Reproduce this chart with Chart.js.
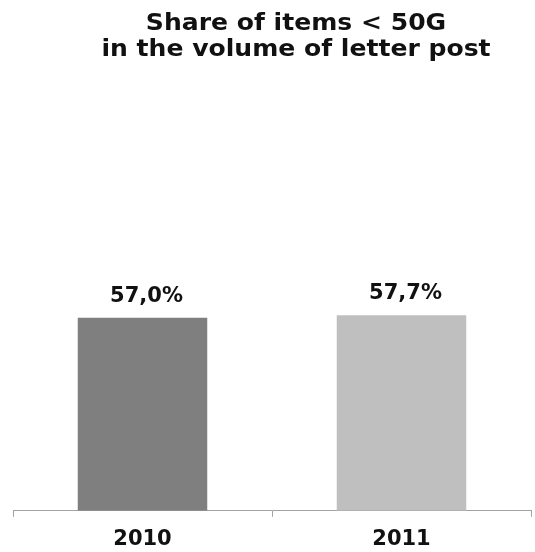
<!DOCTYPE html>
<html>
<head>
<meta charset="utf-8">
<script src="https://cdn.jsdelivr.net/npm/chart.js@4"></script>
<style>
    html, body { margin: 0; padding: 0; background: #ffffff; }
    #wrap { width: 535px; height: 552px; }
</style>
</head>
<body>
<div id="wrap"><canvas id="shareChart" width="535" height="552"></canvas></div>
<script>
const years = ['2010', '2011'];
const shares = [57.0, 57.7];
const barColors = ['#7f7f7f', '#bfbfbf'];
const titleLines = ['Share of items < 50G', 'in the volume of letter post'];

const FONT = '"DejaVu Sans", Verdana, sans-serif';

// Title drawn by hand so it can sit a little right of the plot centre,
// with a slight horizontal stretch for a wider face
const titlePlugin = {
    id: 'titleLines',
    afterDraw(chart) {
        const ctx = chart.ctx;
        ctx.save();
        ctx.translate(296, 0);
        ctx.scale(1.09, 1);
        ctx.font = 'bold 23px ' + FONT;
        ctx.fillStyle = '#111111';
        ctx.textAlign = 'center';
        ctx.textBaseline = 'alphabetic';
        titleLines.forEach((line, i) => {
            ctx.fillText(line, 0, 30 + i * 26);
        });
        ctx.restore();
    }
};

// Value labels above each bar, written with a decimal comma
const valueLabels = {
    id: 'valueLabels',
    afterDatasetsDraw(chart) {
        const ctx = chart.ctx;
        const meta = chart.getDatasetMeta(0);
        ctx.save();
        ctx.font = 'bold 21px ' + FONT;
        ctx.fillStyle = '#111111';
        ctx.textAlign = 'center';
        ctx.textBaseline = 'alphabetic';
        meta.data.forEach((bar, i) => {
            const text = shares[i].toFixed(1).replace('.', ',') + '%';
            ctx.fillText(text, bar.x + 4, bar.y - 16);
        });
        ctx.restore();
    }
};

new Chart(document.getElementById('shareChart'), {
    type: 'bar',
    data: {
        labels: years,
        datasets: [{
            data: shares,
            backgroundColor: barColors,
            borderWidth: 0,
            barPercentage: 0.5,
            categoryPercentage: 1.0
        }]
    },
    options: {
        responsive: false,
        animation: false,
        layout: {
            padding: { top: 172, left: 13, right: 4, bottom: -10 }
        },
        plugins: {
            legend: { display: false },
            title: { display: false },
            tooltip: { enabled: false }
        },
        scales: {
            x: {
                offset: true,
                border: { display: true, color: '#a6a0a0', width: 1 },
                grid: {
                    display: true,
                    offset: true,
                    drawOnChartArea: false,
                    drawTicks: true,
                    tickLength: 6,
                    color: '#a6a0a0'
                },
                ticks: {
                    color: '#111111',
                    padding: 10,
                    font: { family: FONT, size: 21, weight: 'bold' }
                }
            },
            y: {
                display: false,
                min: 0,
                max: 100
            }
        }
    },
    plugins: [titlePlugin, valueLabels]
});
</script>
</body>
</html>
